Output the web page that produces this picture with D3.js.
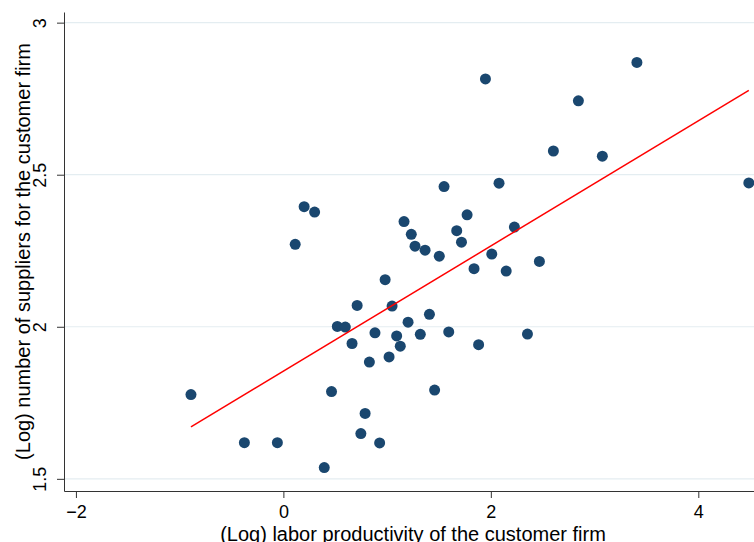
<!DOCTYPE html>
<meta charset="utf-8">
<head>
  <script src="https://d3js.org/d3.v7.min.js"></script>
  <style>
    body { margin: 0; background: #fff; }
    svg { display: block; font-family: "Liberation Sans", Arial, sans-serif; }
  </style>
</head>
<body>
<svg width="754" height="542"></svg>
<script>
// (log) labor productivity of customer firm
var prodX = [-0.891, -0.376, -0.058, 0.114, 0.200, 0.301, 0.394, 0.464, 0.520, 0.597,
             0.662, 0.711, 0.747, 0.788, 0.829, 0.883, 0.928, 0.981, 1.019, 1.048,
             1.092, 1.127, 1.163, 1.202, 1.233, 1.269, 1.320, 1.366, 1.408, 1.458,
             1.503, 1.549, 1.594, 1.671, 1.717, 1.771, 1.838, 1.882, 1.948, 2.009,
             2.079, 2.148, 2.227, 2.353, 2.468, 2.603, 2.844, 3.075, 3.408, 4.487];
// (log) number of suppliers
var suppliersY = [1.777, 1.619, 1.619, 2.271, 2.395, 2.377, 1.537, 1.787, 2.001, 1.999,
                  1.945, 2.070, 1.649, 1.715, 1.884, 1.980, 1.618, 2.155, 1.901, 2.068,
                  1.970, 1.936, 2.346, 2.015, 2.304, 2.265, 1.975, 2.252, 2.041, 1.792,
                  2.232, 2.461, 1.983, 2.316, 2.278, 2.368, 2.191, 1.941, 2.815, 2.239,
                  2.472, 2.183, 2.328, 1.976, 2.215, 2.578, 2.743, 2.561, 2.869, 2.473];
// fitted line
var fitIntercept = 1.854;
var fitSlope = 0.2058;

var xTicks = [-2, 0, 2, 4];
var xTickLabels = ["\u22122", "0", "2", "4"];
var yTicks = [1.5, 2, 2.5, 3];
var yTickLabels = ["1.5", "2", "2.5", "3"];

var svg = d3.select("svg");
var pLeft = 64, pRight = 754, pTop = 12, pBottom = 491;

var x = d3.scaleLinear().domain([-2.115, 4.537]).range([pLeft, pRight]);
var y = d3.scaleLinear().domain([1.46, 3.035]).range([pBottom, pTop]);

// gridlines
svg.append("g").selectAll("line")
  .data(yTicks).enter().append("line")
  .attr("x1", pLeft).attr("x2", pRight)
  .attr("y1", d => y(d)).attr("y2", d => y(d))
  .attr("stroke", "#e4edf1").attr("stroke-width", 1.2);

// axes
var xAxis = svg.append("g").attr("transform", "translate(0," + pBottom + ")")
  .call(d3.axisBottom(x).tickValues(xTicks).tickSize(7).tickSizeOuter(0)
    .tickFormat((d, i) => xTickLabels[i]));
var yAxis = svg.append("g").attr("transform", "translate(" + pLeft + ",0)")
  .call(d3.axisLeft(y).tickValues(yTicks).tickSize(7).tickSizeOuter(0)
    .tickFormat((d, i) => yTickLabels[i]));

svg.selectAll(".domain").attr("stroke", "#333");
svg.selectAll(".tick line").attr("stroke", "#333");
xAxis.selectAll("text")
  .attr("font-size", 18).attr("font-family", "Liberation Sans, Arial, sans-serif")
  .attr("fill", "#000").attr("y", 27).attr("dy", null);
yAxis.selectAll("text")
  .attr("font-size", 18).attr("font-family", "Liberation Sans, Arial, sans-serif")
  .attr("fill", "#000").attr("text-anchor", "middle")
  .attr("x", 0).attr("dy", null).attr("y", -18.5)
  .attr("transform", "rotate(-90)");

// axis titles
svg.append("text")
  .attr("x", (pLeft + pRight) / 2 + 4).attr("y", 541)
  .attr("text-anchor", "middle").attr("font-size", 20)
  .text("(Log) labor productivity of the customer firm");
svg.append("text")
  .attr("transform", "translate(30," + ((pTop + pBottom) / 2) + ") rotate(-90)")
  .attr("text-anchor", "middle").attr("font-size", 20)
  .text("(Log) number of suppliers for the customer firm");

// points
var pts = prodX.map((d, i) => ({x: d, y: suppliersY[i]}));
svg.append("g").selectAll("circle")
  .data(pts).enter().append("circle")
  .attr("cx", d => x(d.x)).attr("cy", d => y(d.y))
  .attr("r", 5.5)
  .attr("fill", "#1a476f");

// linear fit over the range of the data
var ext = d3.extent(prodX);
svg.append("line")
  .attr("x1", x(ext[0])).attr("y1", y(fitIntercept + fitSlope * ext[0]))
  .attr("x2", x(ext[1])).attr("y2", y(fitIntercept + fitSlope * ext[1]))
  .attr("stroke", "#ff0000").attr("stroke-width", 1.5);
</script>
</body>
